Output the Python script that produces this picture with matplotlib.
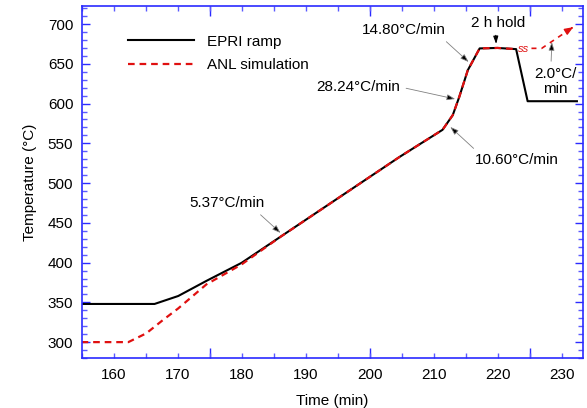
"""
EPRI 升温曲线与 ANL 模拟温度对比
"""

import matplotlib
matplotlib.use("Agg")
import matplotlib.pyplot as plt
from matplotlib.ticker import MultipleLocator

# EPRI 升温程序
epri_t = [155, 166.4, 170.1, 174.5, 180, 204.7, 211.4, 213.0, 214.0, 215.35, 217.2, 220.0, 222.9, 224.7, 232.4]
epri_T = [348, 348, 358, 377, 399.7, 533, 567, 585.5, 608, 642, 669.4, 670, 668.5, 603, 603]

# ANL 模拟结果
anl_t = [155, 162.3, 165.1, 167.7, 170.1, 174.5, 180, 186, 204.7, 211.4, 213.0, 214.0, 215.35, 217.2, 220.0, 222.9]
anl_T = [300, 300, 311, 327.7, 342.4, 372.6, 397.7, 432, 533, 567, 585.5, 608, 642, 669.4, 670, 668.5]

# 保温结束后的外推段
ext_t = [225.3, 226.9, 232.2]
ext_T = [669.5, 669.5, 698]

plt.rcParams["font.family"] = ["Liberation Sans", "DejaVu Sans"]
plt.rcParams["font.size"] = 10

fig = plt.figure(figsize=(5.87, 4.08), dpi=100)
ax = fig.add_axes([0.139, 0.1225, 0.8547, 0.8625])

ax.plot(epri_t, epri_T, color="black", lw=1.5, label="EPRI ramp")
ax.plot(anl_t, anl_T, color="#e01010", lw=1.6, dashes=(3, 2.2), label="ANL simulation")
ax.plot(ext_t[:-1] + [ext_t[-1] - 0.6], ext_T[:-1] + [ext_T[-1] - 3], color="#e01010", lw=1.2, dashes=(3, 3))
ax.annotate("", xy=(ext_t[-1], ext_T[-1]), xytext=(ext_t[-1] - 1.0, ext_T[-1] - 5),
            arrowprops=dict(arrowstyle="-|>,head_length=0.5,head_width=0.2", color="#e01010", lw=1.0))
# 断轴符号
ax.text(224.0, 669, "ss", color="#e01010", fontsize=8, style="italic", ha="center", va="center")

ax.set_xlim(155, 233.4)
ax.set_ylim(280, 722.6)

# 坐标轴颜色与刻度
for sp in ax.spines.values():
    sp.set_color("#2b2bff")
    sp.set_linewidth(1.2)
ax.xaxis.set_major_locator(MultipleLocator(10))
ax.xaxis.set_minor_locator(MultipleLocator(5))
ax.yaxis.set_major_locator(MultipleLocator(50))
ax.yaxis.set_minor_locator(MultipleLocator(10))
ax.tick_params(which="both", direction="in", top=True, right=True, color="#5a5aff", width=1.0)
ax.tick_params(axis="x", which="both", length=3.5, pad=7)
ax.tick_params(axis="y", which="major", length=6, pad=6, color="#2b2bff")
ax.tick_params(axis="y", which="minor", length=3.5)
ax.tick_params(labelsize=11)

for side in ["bottom", "top"]:
    sec = ax.secondary_xaxis(side)
    sec.set_xticks([175, 200, 225])
    sec.tick_params(direction="in", length=7, color="#2b2bff", width=1.0,
                    labelbottom=False, labeltop=False)
    for sp in sec.spines.values():
        sp.set_visible(False)

ax.set_xlabel("Time (min)", fontsize=11, labelpad=9)
ax.set_ylabel("Temperature (°C)", fontsize=11, labelpad=8)

# 升温速率标注
arrow_kw = dict(arrowstyle="-|>,head_length=0.45,head_width=0.16", edgecolor="0.5", facecolor="black", lw=0.6)
ax.annotate("5.37°C/min", xy=(186.4, 435), xytext=(177.7, 474.8), ha="center", va="center",
            fontsize=11, arrowprops=dict(arrow_kw, relpos=(0.88, 0.0)))
ax.annotate("28.24°C/min", xy=(213.8, 605), xytext=(198.3, 620.8), ha="center", va="center",
            fontsize=11, arrowprops=dict(arrow_kw, relpos=(1.0, 0.5)))
ax.annotate("14.80°C/min", xy=(215.8, 650), xytext=(205.3, 692.5), ha="center", va="center",
            fontsize=11, arrowprops=dict(arrow_kw, relpos=(0.95, 0.0)))
ax.annotate("10.60°C/min", xy=(212.3, 573), xytext=(222.95, 529), ha="center", va="center",
            fontsize=11, arrowprops=dict(arrow_kw, relpos=(0.05, 1.0)))
ax.annotate("2 h hold", xy=(219.8, 671.5), xytext=(220.1, 701.6), ha="center", va="center",
            fontsize=11, arrowprops=dict(arrowstyle="-|>,head_length=0.4,head_width=0.13",
                                         color="black", lw=0.8, relpos=(0.45, 0.0)))
ax.annotate("2.0°C/\nmin", xy=(228.5, 680.8), xytext=(229.0, 628), ha="center", va="center",
            fontsize=11, linespacing=1.1, arrowprops=dict(arrow_kw, relpos=(0.4, 1.0)))

ax.legend(loc="upper left", bbox_to_anchor=(0.065, 0.958), frameon=False, fontsize=11,
          handlelength=4.3, handletextpad=0.9, labelspacing=0.62)

fig.savefig("out.png", dpi=100)
